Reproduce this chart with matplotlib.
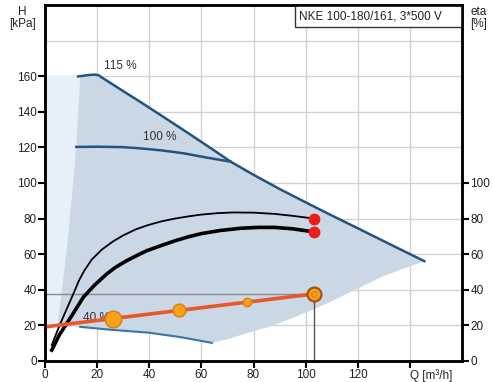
import numpy as np
import matplotlib.pyplot as plt
from matplotlib.patches import Rectangle

plt.rcParams['font.family'] = ['Liberation Sans', 'DejaVu Sans']

# pump curves (Q in m3/h, H in kPa)
q115 = [12.7, 15, 17, 19, 20.5, 22, 25, 30, 36.5, 45, 55, 65, 71.2, 80, 90, 100, 110, 120, 130, 145.5]
h115 = [160, 160.4, 160.8, 161, 160.7, 159.2, 156.4, 151.7, 145.7, 137.6, 128, 118.2, 112, 104.6, 96.6, 89.1, 81.7, 74.5, 67.2, 56]

q100 = [12, 20, 29.5, 36.5, 45, 53.2, 62, 71.2]
h100 = [120.3, 120.4, 120.2, 119.5, 118.3, 116.7, 114.3, 112]

q40 = [0, 4.5, 13.5, 25, 40, 52, 64]
h40 = [19.5, 19.4, 19, 17.4, 15.7, 13.2, 10]

# left edge and lower edge of the operating range
q_left = [13.5, 12, 10.5, 8.3, 5, 4.5]
h_left = [160, 120, 95, 62, 22, 19.4]
q_low = [64, 70, 75, 80, 87.7, 95, 100.6, 107, 113.5, 120, 128.8, 137, 145.5]
h_low = [10, 12, 14.3, 16.5, 19.9, 24, 27.3, 31.4, 36, 40.6, 46.9, 51.5, 55.9]

# efficiency curves (eta in %)
q_eta1 = [2.6, 4, 5.5, 7.7, 9.5, 11, 13, 15, 18, 21.8, 26, 30, 35, 40, 45, 50, 55, 60,
          66, 72, 80, 88, 95, 103]
eta1 = [8.7, 14, 19.5, 27, 33, 38, 45, 50.5, 57, 62.5, 67, 70.5, 74, 76.5, 78.5, 80, 81.2, 82.2,
        83, 83.4, 83.3, 82.6, 81.5, 80]
q_eta2 = [2.6, 4, 5.5, 8.3, 11, 14.7, 19, 23.7, 27, 31.4, 35, 39.1, 45, 50, 55, 60, 67, 75,
          82, 88, 95, 103]
eta2 = [5.9, 10, 14.5, 20.8, 27, 35.7, 42.5, 48.8, 52.5, 56.3, 59, 61.9, 65, 67.5, 69.7, 71.5,
        73.2, 74.5, 75, 75, 74.2, 72.5]

# power line and its markers
q_p = [0, 103]
p_val = [19, 37.5]
q_mark = [26, 51.5, 77.3]
p_mark = [23.7, 28.3, 32.9]
mark_size = [12, 9.2, 6]

q_duty = 103
h_duty = 37.5

fig = plt.figure(figsize=(4.93, 3.82), dpi=100)
ax = fig.add_axes([0.0913, 0.056, 0.846, 0.93])

# light area on the far left
ax.fill([0, 0, 14, 14], [19.5, 160, 160, 19], color='#e6f0f9', lw=0, zorder=1)

# operating range polygon
poly_q = list(q_left)
poly_h = list(h_left)
for q, h in zip(q40, h40):
    if q > 4.5:
        poly_q.append(q)
        poly_h.append(h)
poly_q += q_low[1:] + q115[::-1]
poly_h += h_low[1:] + h115[::-1]
ax.fill(poly_q, poly_h, color='#cad7e4', lw=0, zorder=1)

ax.grid(True, color='#d2d2d2', lw=1, zorder=0)
ax.set_axisbelow(True)

ax.plot(q115, h115, color='#24547e', lw=1.8, zorder=3)
ax.plot(q100, h100, color='#24547e', lw=1.8, zorder=3)
ax.plot(q40[2:], h40[2:], color='#3b74a6', lw=1.5, zorder=3)

ax.text(29, 166, '115 %', ha='center', va='center', fontsize=8.5, color='#333333')
ax.text(44.2, 126, '100 %', ha='center', va='center', fontsize=8.5, color='#333333')
ax.text(14.6, 24, '40 %', ha='left', va='center', fontsize=8.5, color='#333333', zorder=4)

# duty point lines
ax.plot([0, q_duty], [h_duty, h_duty], color='#8a8a8a', lw=1, zorder=2)
ax.plot([q_duty, q_duty], [0, h_duty], color='#555555', lw=1, zorder=2)

ax.plot(q_eta1, eta1, color='black', lw=1.3, zorder=5)
ax.plot(q_eta2, eta2, color='black', lw=2.6, zorder=5)
ax.plot([q_eta1[-1], q_eta2[-1]], [eta1[-1], eta2[-1]], 'o', color='#ee1c1c', ms=7.5, zorder=6)

ax.plot(q_p, p_val, color='#e8562a', lw=2.6, zorder=5)
for q, p, s in zip(q_mark, p_mark, mark_size):
    ax.plot(q, p, 'o', ms=s, mfc='#f7a21b', mec='#e07a10', mew=1, zorder=6)
ax.plot(q_duty, h_duty, 'o', ms=10, mfc='#f7a21b', mec='#a9520e', mew=1.6, zorder=6)
ax.plot(q_duty, h_duty, 'o', ms=4, mfc='#f7a21b', mec='#e07a10', mew=0.8, zorder=7)

ax.set_xlim(0, 160)
ax.set_ylim(0, 200)
ax.set_xticks(np.arange(0, 141, 20))
ax.set_xticklabels(['0', '20', '40', '60', '80', '100', '120', 'Q [m³/h]'])
ax.get_xticklabels()[-1].set_ha('left')
ax.set_yticks(np.arange(0, 161, 20))
ax.set_yticks(np.arange(0, 201, 20), minor=True)
ax.yaxis.grid(True, which='minor', color='#d2d2d2', lw=1)
ax.tick_params(which='minor', length=0)
ax.tick_params(direction='out', length=5, width=1.5, labelsize=8.5, labelcolor='#222222', pad=1)
for s in ax.spines.values():
    s.set_linewidth(1.8)

ax2 = ax.twinx()
ax2.set_ylim(0, 200)
ax2.set_yticks(np.arange(0, 101, 20))
ax2.tick_params(direction='out', length=5, width=1.5, labelsize=8.5, labelcolor='#222222', pad=1)
for s in ax2.spines.values():
    s.set_linewidth(1.8)

# title box in the top right corner
ax.add_patch(Rectangle((0.6, 0.938), 0.4, 0.062, transform=ax.transAxes,
                       fc='white', ec='#333333', lw=1, zorder=8))
ax.text(0.61, 0.969, 'NKE 100-180/161, 3*500 V', transform=ax.transAxes,
        ha='left', va='center', fontsize=8.5, color='#222222', zorder=9)

fig.text(22 / 493, 1 - 18 / 382, 'H\n[kPa]', ha='center', va='center', fontsize=8.5,
         color='#222222', linespacing=0.95)
fig.text(479 / 493, 1 - 18 / 382, 'eta\n[%]', ha='center', va='center', fontsize=8.5,
         color='#222222', linespacing=0.95)

fig.savefig('out.png', dpi=100)
